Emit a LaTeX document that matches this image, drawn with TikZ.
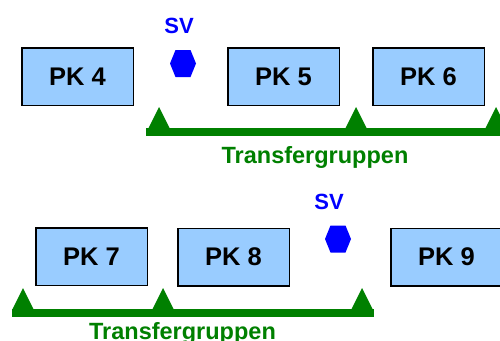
\documentclass[tikz,border=0pt]{standalone}
\usepackage{fontspec}
\setmainfont{Liberation Sans}
\definecolor{boxblue}{HTML}{99CCFF}
\definecolor{tgreen}{HTML}{008000}
\definecolor{svblue}{HTML}{0000FF}
\tikzset{
  pk/.style={draw=black, line width=1.5pt, fill=boxblue, rectangle,
    minimum width=111.5pt, minimum height=57.5pt, inner sep=0pt,
    font=\fontsize{25.5}{28}\selectfont\bfseries},
  svlabel/.style={text=svblue, anchor=base, inner sep=0pt,
    font=\fontsize{22}{24}\selectfont\bfseries},
  tglabel/.style={text=tgreen, anchor=base, inner sep=0pt,
    font=\fontsize{23.5}{26}\selectfont\bfseries},
  bar/.style={draw=tgreen, line width=7.5pt},
  tri/.style={fill=tgreen},
  hexa/.style={fill=svblue}
}
\begin{document}
\begin{tikzpicture}[x=1pt,y=-1pt]
\useasboundingbox (0,0) rectangle (500,340);
% top row
\node[pk] (pk4) at (77.5,76.5) {PK 4};
\node[pk] (pk5) at (283.5,76.5) {PK 5};
\node[pk] (pk6) at (428.5,76.5) {PK 6};
\node[svlabel] (sv1) at (179,33) {SV};
\fill[hexa] (170,63.5) -- (175.5,50) -- (190.5,50) -- (196,63.5) -- (190.5,77) -- (175.5,77) -- cycle;
\draw[bar] (146,132) -- (502,132);
\fill[tri] (148,129) -- (159,107) -- (170,129) -- cycle;
\fill[tri] (345,129) -- (356,107) -- (367,129) -- cycle;
\fill[tri] (485,129) -- (496,107) -- (507,129) -- cycle;
\node[tglabel] (tg1) at (315,163) {Transfergruppen};
% bottom row
\node[pk] (pk7) at (91.5,256.5) {PK 7};
\node[pk] (pk8) at (233.5,257) {PK 8};
\node[pk] (pk9) at (446.5,257) {PK 9};
\node[svlabel] (sv2) at (329,209) {SV};
\fill[hexa] (325,239) -- (330.5,225.5) -- (345.5,225.5) -- (351,239) -- (345.5,252.5) -- (330.5,252.5) -- cycle;
\draw[bar] (12,313) -- (374,313);
\fill[tri] (12,310) -- (23,288) -- (34,310) -- cycle;
\fill[tri] (152,310) -- (163,288) -- (174,310) -- cycle;
\fill[tri] (351,310) -- (362,288) -- (373,310) -- cycle;
\node[tglabel] (tg2) at (182.5,339) {Transfergruppen};
\end{tikzpicture}
\end{document}
